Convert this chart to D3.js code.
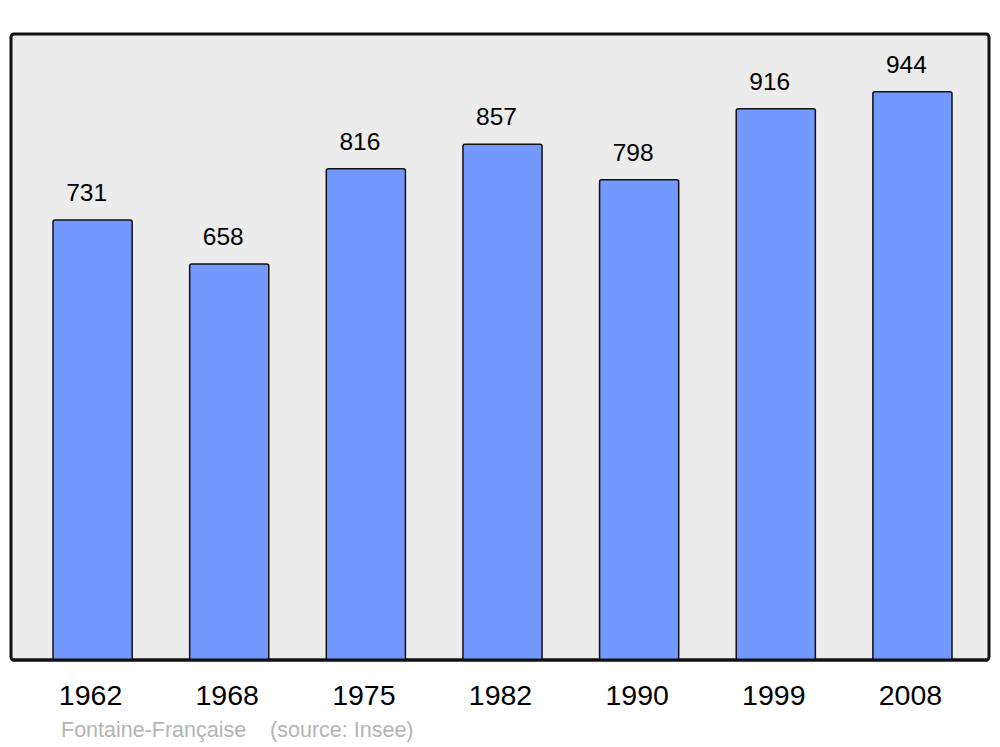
<!DOCTYPE html>
<html><head><meta charset="utf-8">
<script src="https://cdn.jsdelivr.net/npm/d3@7"></script>
<style>body{margin:0;background:#fff}svg{display:block;font-family:"Liberation Sans",Arial,sans-serif}</style>
</head><body>
<script>
const years = ["1962","1968","1975","1982","1990","1999","2008"];
const population = [731,658,816,857,798,916,944];
const sourceText = "Fontaine-Française    (source: Insee)";

const W = 1000, H = 747;
const frame = {left: 11, top: 34, right: 989, bottom: 660};
const svg = d3.select("body").append("svg").attr("width", W).attr("height", H);

svg.append("rect")
  .attr("x", frame.left).attr("y", frame.top)
  .attr("width", frame.right - frame.left).attr("height", frame.bottom - frame.top)
  .attr("rx", 3).attr("fill", "#ececec").attr("stroke", "#111").attr("stroke-width", 3);

const x = d3.scaleBand().domain(years).range([24.25, 980.75]).paddingInner(0.421).paddingOuter(0.2105);
const y = d3.scaleLinear().domain([0, 1040]).range([frame.bottom, frame.top]);

const data = years.map((yr, i) => ({yr, v: population[i]}));

svg.selectAll("rect.bar").data(data).enter().append("rect")
  .attr("class", "bar")
  .attr("x", d => x(d.yr)).attr("y", d => y(d.v))
  .attr("width", x.bandwidth()).attr("height", d => y(0) - y(d.v))
  .attr("rx", 2).attr("fill", "#7399ff").attr("stroke", "#111").attr("stroke-width", 1.5);

// redraw bottom frame line over bars
svg.append("line").attr("x1", frame.left + 2).attr("x2", frame.right - 2)
  .attr("y1", frame.bottom).attr("y2", frame.bottom)
  .attr("stroke", "#111").attr("stroke-width", 3).attr("stroke-linecap", "round");

svg.selectAll("text.val").data(data).enter().append("text")
  .attr("class", "val")
  .attr("x", d => x(d.yr) + x.bandwidth() / 2 - 6).attr("y", d => y(d.v) - 19)
  .attr("text-anchor", "middle").attr("font-size", 24.5).attr("fill", "#000")
  .text(d => d.v);

const xAxis = svg.append("g").attr("transform", `translate(-2,${frame.bottom})`)
  .call(d3.axisBottom(x).tickSize(0).tickPadding(0));
xAxis.select(".domain").remove();
xAxis.selectAll("text").attr("y", 45).attr("dy", null)
  .attr("font-size", 28.5).attr("font-family", "Liberation Sans, Arial, sans-serif").attr("fill", "#000");

svg.append("text").attr("x", 61).attr("y", 737)
  .attr("font-size", 21.5).attr("fill", "#b4b4b4")
  .style("white-space", "pre").attr("xml:space", "preserve")
  .text(sourceText);
</script>
</body></html>
